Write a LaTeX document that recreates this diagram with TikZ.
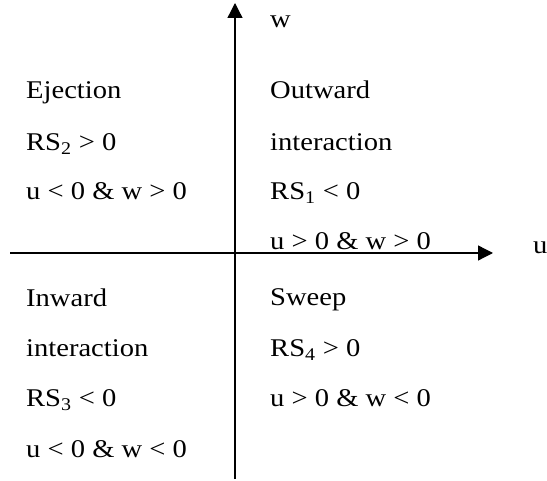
\documentclass[tikz,border=0pt]{standalone}
\usepackage{fontspec}
\setmainfont[FakeStretch=1.12]{Liberation Serif}
\usetikzlibrary{arrows.meta}
\begin{document}
\begin{tikzpicture}[x=1pt,y=-1pt,
  lbl/.style={anchor=base west,inner sep=0pt,font=\fontsize{25.5}{30}\selectfont},
  axis/.style={line width=1.3pt,-{Triangle[length=15pt,width=15pt]}}]
\useasboundingbox (0,0) rectangle (547,481);
% axes
\coordinate (hstart) at (10,253);
\coordinate (hend) at (493,253);
\coordinate (vstart) at (235,479);
\coordinate (vend) at (235,3);
\draw[axis] (hstart) -- (hend);
\draw[axis] (vstart) -- (vend);
\node[lbl] (wlab) at (270,28) {w};
\node[lbl] (ulab) at (533,254) {u};
% upper left
\node[lbl] (ej) at (26,99) {Ejection};
\node[lbl] (rs2) at (26,150.5) {RS\textsubscript{2} > 0};
\node[lbl] (c2) at (26,200) {u < 0 \& w > 0};
% upper right
\node[lbl] (out) at (270,99) {Outward};
\node[lbl] (int1) at (270,150.5) {interaction};
\node[lbl] (rs1) at (270,200) {RS\textsubscript{1} < 0};
\node[lbl] (c1) at (270,250) {u > 0 \& w > 0};
% lower left
\node[lbl] (inw) at (26,307) {Inward};
\node[lbl] (int3) at (26,357) {interaction};
\node[lbl] (rs3) at (26,407) {RS\textsubscript{3} < 0};
\node[lbl] (c3) at (26,457) {u < 0 \& w < 0};
% lower right
\node[lbl] (sw) at (270,306) {Sweep};
\node[lbl] (rs4) at (270,357) {RS\textsubscript{4} > 0};
\node[lbl] (c4) at (270,407) {u > 0 \& w < 0};
\end{tikzpicture}
\end{document}
